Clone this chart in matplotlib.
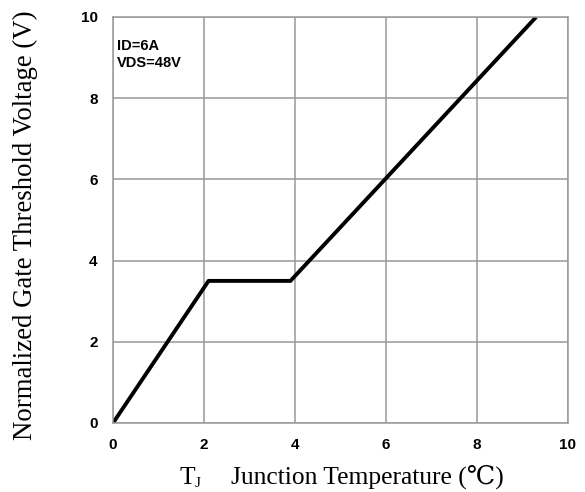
import matplotlib.pyplot as plt

# curve
temp = [0, 2.1, 3.9, 9.3]
vth = [0, 3.5, 3.5, 10]
ticks = [0, 2, 4, 6, 8, 10]

W, H = 585, 492
fig = plt.figure(figsize=(W / 100, H / 100), dpi=100)
ax = fig.add_axes([113 / W, 1 - 423 / H, 455 / W, 406 / H])

ax.plot(temp, vth, color='black', linewidth=2.8, solid_capstyle='butt')

ax.set_xlim(0, 10)
ax.set_ylim(0, 10)
ax.set_xticks(ticks)
ax.set_yticks(ticks)
ax.grid(True, color='#999999', linewidth=1.1)
for s in ax.spines.values():
    s.set_color('#999999')
    s.set_linewidth(1.1)
ax.tick_params(length=0)
ax.tick_params(axis='x', pad=11)
ax.tick_params(axis='y', pad=11)
for lab in ax.get_xticklabels() + ax.get_yticklabels():
    lab.set_fontfamily('Liberation Sans')
    lab.set_fontweight('bold')
    lab.set_fontsize(11)

ax.text(0.09, 9.45, 'ID=6A\nVDS=48V', fontfamily='Liberation Sans', fontweight='bold',
        fontsize=10.5, va='top', ha='left', linespacing=1.25)

serif = ['Liberation Serif', 'DejaVu Serif', 'DejaVu Sans']
# x label built from pieces so the subscript J and the degree sign render
base = 1 - 484 / H
fig.text(179 / W, base, 'T', fontfamily=serif, fontsize=18.4, va='baseline', ha='left')
fig.text(195 / W, base - 3 / H, 'J', fontfamily=serif, fontsize=11, va='baseline', ha='left')
fig.text(231 / W, base, 'Junction Temperature (℃)', fontfamily=serif, fontsize=18.4,
         va='baseline', ha='left')

fig.text(32 / W, 1 - 225 / H, 'Normalized Gate Threshold Voltage (V)', fontfamily=serif,
         fontsize=19.3, rotation=90, rotation_mode='anchor', ha='center', va='baseline')

fig.savefig('out.png', dpi=100)
